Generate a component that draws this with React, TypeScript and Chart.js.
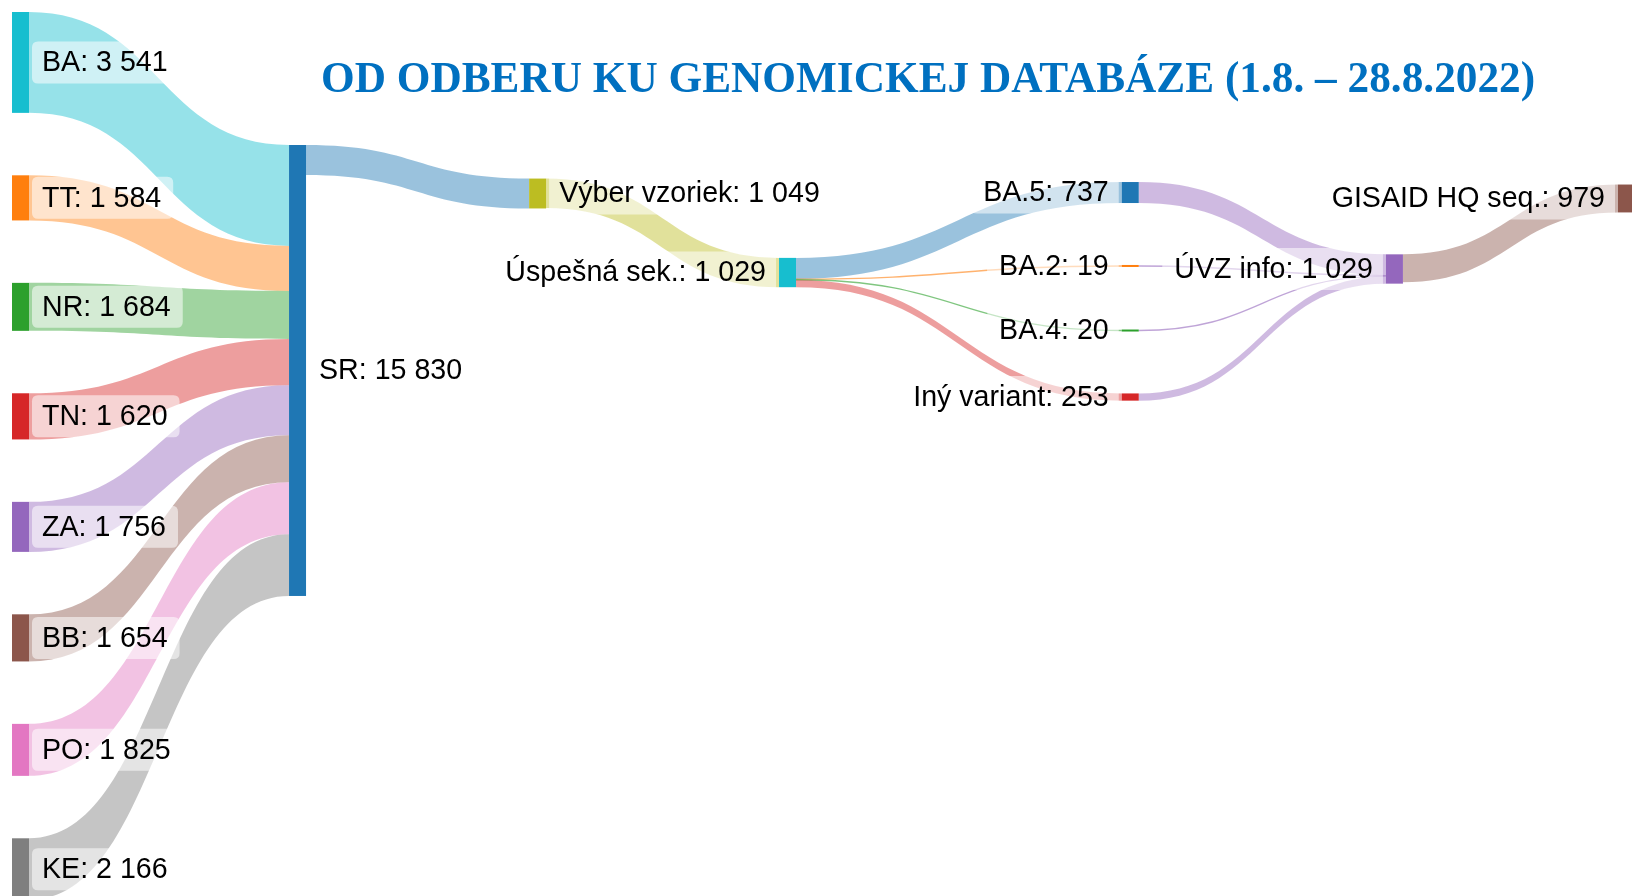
import React, { useEffect, useRef } from "react";
import { Chart, registerables } from "chart.js";

Chart.register(...registerables);

// ---------- data ----------
const nodeLabels = [
  "BA", "TT", "NR", "TN", "ZA", "BB", "PO", "KE",
  "SR",
  "Výber vzoriek",
  "Úspešná sek.",
  "BA.5", "BA.2", "BA.4", "Iný variant",
  "ÚVZ info",
  "GISAID HQ seq.",
];
const linkSources = [0, 1, 2, 3, 4, 5, 6, 7, 8, 9, 10, 10, 10, 10, 11, 12, 13, 14, 15];
const linkTargets = [8, 8, 8, 8, 8, 8, 8, 8, 9, 10, 11, 12, 13, 14, 15, 15, 15, 15, 16];
const linkValues = [3541, 1584, 1684, 1620, 1756, 1654, 1825, 2166, 1049, 1029, 737, 19, 20, 253, 737, 19, 20, 253, 979];

const titleText = "OD ODBERU KU GENOMICKEJ DATABÁZE (1.8. – 28.8.2022)";

// ---------- layout (node arrangement, like plotly node.x / node.y) ----------
const nodeX = [0, 0, 0, 0, 0, 0, 0, 0, 0.1725, 0.322, 0.4776, 0.691, 0.691, 0.691, 0.691, 0.8555, 1];
const nodeY: (number | null)[] = [null, null, null, null, null, null, null, null, 0.4037, 0.2044, 0.2934, 0.2033, 0.286, 0.3587, 0.4336, 0.2894, 0.21];
const nodePad = 0.07031;

// ---------- styles ----------
const nodeColors = [
  "#17becf", "#ff7f0e", "#2ca02c", "#d62728", "#9467bd", "#8c564b", "#e377c2", "#7f7f7f",
  "#1f77b4", "#bcbd22", "#17becf", "#1f77b4", "#ff7f0e", "#2ca02c", "#d62728", "#9467bd", "#8c564b",
];
const linkColorNode = [0, 1, 2, 3, 4, 5, 6, 7, 8, 9, 11, 12, 13, 14, 15, 15, 15, 15, 16];
const linkAlpha = 0.45;
const nodeWidthPx = 17;
const labelFont = '28.6px "Liberation Sans", Arial, sans-serif';

function fmt(v: number) {
  return String(v).replace(/\B(?=(\d{3})+(?!\d))/g, " ");
}
function hexA(hex: string, a: number) {
  const r = parseInt(hex.slice(1, 3), 16);
  const g = parseInt(hex.slice(3, 5), 16);
  const b = parseInt(hex.slice(5, 7), 16);
  return `rgba(${r},${g},${b},${a})`;
}

function computeLayout() {
  const n = nodeLabels.length;
  const inSum = new Array(n).fill(0);
  const outSum = new Array(n).fill(0);
  linkValues.forEach((v, i) => {
    outSum[linkSources[i]] += v;
    inSum[linkTargets[i]] += v;
  });
  const values = inSum.map((v, i) => Math.max(v, outSum[i]));
  const autoIdx = values.map((_, i) => i).filter((i) => nodeY[i] === null);
  const autoSum = autoIdx.reduce((s, i) => s + values[i], 0);
  const k = (1 - (autoIdx.length - 1) * nodePad) / autoSum;
  const top = new Array(n).fill(0);
  let cur = 0;
  autoIdx.forEach((i) => {
    top[i] = cur;
    cur += values[i] * k + nodePad;
  });
  values.forEach((v, i) => {
    if (nodeY[i] !== null) top[i] = (nodeY[i] as number) - (v * k) / 2;
  });
  const center = values.map((v, i) => top[i] + (v * k) / 2);
  const l0 = new Array(linkValues.length).fill(0);
  const l1 = new Array(linkValues.length).fill(0);
  for (let i = 0; i < n; i++) {
    const outs = linkValues.map((_, j) => j).filter((j) => linkSources[j] === i)
      .sort((a, b) => center[linkTargets[a]] - center[linkTargets[b]]);
    let y = top[i];
    outs.forEach((j) => { l0[j] = y; y += linkValues[j] * k; });
    const ins = linkValues.map((_, j) => j).filter((j) => linkTargets[j] === i)
      .sort((a, b) => center[linkSources[a]] - center[linkSources[b]]);
    y = top[i];
    ins.forEach((j) => { l1[j] = y; y += linkValues[j] * k; });
  }
  return { values, k, top, center, l0, l1 };
}

function roundRect(ctx: CanvasRenderingContext2D, x: number, y: number, w: number, h: number, r: number) {
  ctx.beginPath();
  ctx.moveTo(x + r, y);
  ctx.lineTo(x + w - r, y);
  ctx.quadraticCurveTo(x + w, y, x + w, y + r);
  ctx.lineTo(x + w, y + h - r);
  ctx.quadraticCurveTo(x + w, y + h, x + w - r, y + h);
  ctx.lineTo(x + r, y + h);
  ctx.quadraticCurveTo(x, y + h, x, y + h - r);
  ctx.lineTo(x, y + r);
  ctx.quadraticCurveTo(x, y, x + r, y);
  ctx.closePath();
}

const sankeyPlugin = {
  id: "sankeyDraw",
  afterDatasetsDraw(chart: any) {
    const ctx: CanvasRenderingContext2D = chart.ctx;
    const xs = chart.scales.x;
    const ys = chart.scales.y;
    const L = computeLayout();
    const px = (v: number) => xs.getPixelForValue(v);
    const py = (v: number) => ys.getPixelForValue(v);
    ctx.save();
    // links
    linkValues.forEach((v, j) => {
      const s = linkSources[j];
      const t = linkTargets[j];
      const x0 = px(nodeX[s]) + nodeWidthPx;
      const x1 = px(nodeX[t]);
      const xm = (x0 + x1) / 2;
      const a0 = py(L.l0[j]);
      const b0 = py(L.l0[j] + v * L.k);
      const a1 = py(L.l1[j]);
      const b1 = py(L.l1[j] + v * L.k);
      const color = hexA(nodeColors[linkColorNode[j]], linkAlpha);
      if (b0 - a0 < 1.4) {
        const c0 = (a0 + b0) / 2;
        const c1 = (a1 + b1) / 2;
        ctx.beginPath();
        ctx.moveTo(x0, c0);
        ctx.bezierCurveTo(xm, c0, xm, c1, x1, c1);
        ctx.strokeStyle = hexA(nodeColors[linkColorNode[j]], 0.6);
        ctx.lineWidth = 1.4;
        ctx.stroke();
        return;
      }
      ctx.beginPath();
      ctx.moveTo(x0, a0);
      ctx.bezierCurveTo(xm, a0, xm, a1, x1, a1);
      ctx.lineTo(x1, b1);
      ctx.bezierCurveTo(xm, b1, xm, b0, x0, b0);
      ctx.closePath();
      ctx.fillStyle = color;
      ctx.fill();
    });
    // nodes
    L.values.forEach((v, i) => {
      const x = px(nodeX[i]);
      const y0 = py(L.top[i]);
      let h = py(L.top[i] + v * L.k) - y0;
      let yy = y0;
      if (h < 2) { yy = y0 + h / 2 - 1; h = 2; }
      ctx.fillStyle = nodeColors[i];
      ctx.fillRect(x, yy, nodeWidthPx, h);
    });
    // labels
    ctx.font = labelFont;
    ctx.textBaseline = "middle";
    L.values.forEach((v, i) => {
      const text = `${nodeLabels[i]}: ${fmt(v)}`;
      const w = ctx.measureText(text).width;
      const cy = py(L.center[i]);
      const left = nodeX[i] > 0.4;
      const nx = px(nodeX[i]);
      let tx: number;
      let bx: number;
      if (left) {
        tx = nx - 13 - w;
        bx = tx - 12;
      } else {
        tx = nx + nodeWidthPx + 13;
        bx = tx - 10;
      }
      const bw = w + 22;
      ctx.fillStyle = "rgba(255,255,255,0.55)";
      roundRect(ctx, bx, cy - 21, bw, 42, 6);
      ctx.fill();
      ctx.fillStyle = "#000";
      ctx.textAlign = "left";
      ctx.fillText(text, tx, cy + 1);
    });
    ctx.restore();
  },
};

export default function App() {
  const canvasRef = useRef<HTMLCanvasElement | null>(null);
  const titleRef = useRef<HTMLSpanElement | null>(null);

  useEffect(() => {
    document.body.style.margin = "0";
    document.body.style.overflow = "hidden";
    const canvas = canvasRef.current;
    if (!canvas) return;
    const L = computeLayout();
    const chart = new Chart(canvas, {
      type: "scatter",
      data: {
        datasets: [
          {
            data: nodeLabels.map((_, i) => ({ x: nodeX[i], y: L.center[i] })),
            pointRadius: 0,
            showLine: false,
          },
        ],
      },
      options: {
        responsive: false,
        animation: false,
        devicePixelRatio: 1,
        layout: { padding: { left: 12, top: 12, right: 32, bottom: 12 } },
        scales: {
          x: { type: "linear", min: 0, max: 1, display: false },
          y: { type: "linear", min: 0, max: 1, reverse: true, display: false },
        },
        plugins: {
          legend: { display: false },
          tooltip: { enabled: false },
          title: { display: false },
        },
      },
      plugins: [sankeyPlugin],
    } as any);
    const t = titleRef.current;
    if (t) {
      const w = t.offsetWidth;
      if (w > 0) t.style.transform = `scaleX(${1214 / w})`;
    }
    return () => chart.destroy();
  }, []);

  return (
    <div
      style={{
        position: "fixed",
        left: 0,
        top: 0,
        width: 1632,
        height: 896,
        overflow: "hidden",
        background: "#fff",
      }}
    >
      <canvas ref={canvasRef} width={1650} height={912} style={{ display: "block" }} />
      <span
        ref={titleRef}
        style={{
          position: "absolute",
          left: 321,
          top: 55,
          fontFamily: '"Liberation Serif", "DejaVu Serif", serif',
          fontWeight: 700,
          fontSize: 45,
          lineHeight: "45px",
          color: "#0070C0",
          whiteSpace: "nowrap",
          transformOrigin: "0 0",
          display: "inline-block",
        }}
      >
        {titleText}
      </span>
    </div>
  );
}
